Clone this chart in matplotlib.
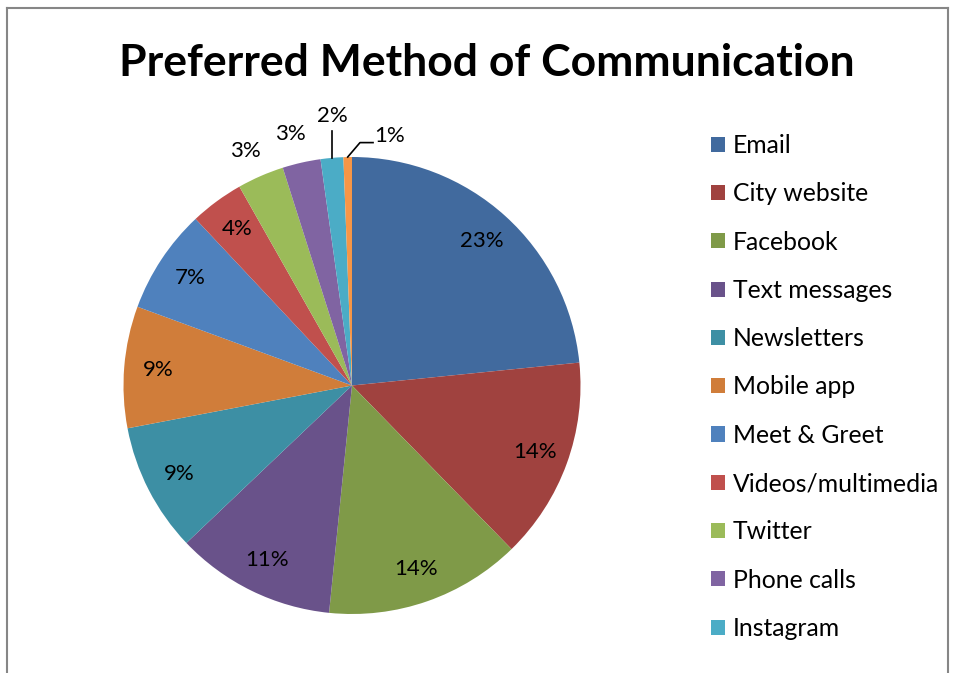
import numpy as np
import matplotlib
matplotlib.use("Agg")
import matplotlib.pyplot as plt
from matplotlib.patches import Patch
from matplotlib.lines import Line2D

# Survey shares (percent), listed clockwise from 12 o'clock
categories = ["Email", "City website", "Facebook", "Text messages", "Newsletters",
              "Mobile app", "Meet & Greet", "Videos/multimedia", "Twitter",
              "Phone calls", "Instagram", "Other"]
shares = [23.4, 14.3, 13.9, 11.3, 9.1, 8.6, 7.4, 3.8, 3.3, 2.7, 1.6, 0.6]
colors = ["#416A9E", "#A0423F", "#7F9A48", "#69528A", "#3D8FA4", "#D07D3A",
          "#4F81BD", "#C0504D", "#9BBB59", "#8064A2", "#4BACC6", "#F79646"]
legend_count = 11  # legend box only has room for the first eleven entries

FONT = "Lato"
W, H = 954, 673
fig = plt.figure(figsize=(W / 100, H / 100), dpi=100)

# chart border (bottom edge runs off the page)
border = "#868686"
fig.add_artist(Line2D([7 / W, 7 / W], [0, 1 - 8 / H], color=border, lw=1.5))
fig.add_artist(Line2D([7 / W, 948 / W], [1 - 8 / H, 1 - 8 / H], color=border, lw=1.5))
fig.add_artist(Line2D([948 / W, 948 / W], [0, 1 - 8 / H], color=border, lw=1.5))

fig.text(486.5 / W, 1 - 76 / H, "Preferred Method of Communication",
         ha="center", va="baseline", fontsize=32, fontweight="bold", family=FONT)

# pie placed by pixel centre/radius
cx, cy, r = 352, 385.5, 228.5
ax = fig.add_axes([(cx - r) / W, 1 - (cy + r) / H, 2 * r / W, 2 * r / H])
wedges, _, pcts = ax.pie(shares, colors=colors, startangle=90, counterclock=False,
                         autopct="%.0f%%", pctdistance=0.85,
                         wedgeprops=dict(linewidth=0),
                         textprops=dict(fontsize=16, family=FONT))
ax.set_xlim(-1, 1)
ax.set_ylim(-1, 1)
ax.axis("off")

def mid_dir(w):
    a = np.deg2rad((w.theta1 + w.theta2) / 2)
    return np.cos(a), np.sin(a)

# small slices get their labels outside the pie
for i, rad in [(8, 1.12), (9, 1.13)]:
    dx, dy = mid_dir(wedges[i])
    pcts[i].set_position((dx * rad - 0.02, dy * rad))

# Instagram: label straight above with a vertical leader
dx, dy = mid_dir(wedges[10])
pcts[10].set_position((dx, 1.18))
ax.plot([dx, dx], [dy, 1.115], color="black", lw=1.2, clip_on=False)

# last sliver: elbow leader to the right
dx, dy = mid_dir(wedges[11])
ax.plot([dx, 0.035, 0.092], [dy, 1.063, 1.063], color="black", lw=1.2, clip_on=False)
pcts[11].set_position((0.095, 1.09))
pcts[11].set_ha("left")

handles = [Patch(facecolor=c, edgecolor="none") for c in colors[:legend_count]]
fig.legend(handles, categories[:legend_count], loc="upper left",
           bbox_to_anchor=(711 / W, 1 - 134 / H), frameon=False,
           prop=dict(family=FONT, size=17.8), handlelength=0.57, handleheight=0.57,
           handletextpad=0.3, labelspacing=1.023, borderaxespad=0, borderpad=0)

fig.savefig("out.png", dpi=100)
